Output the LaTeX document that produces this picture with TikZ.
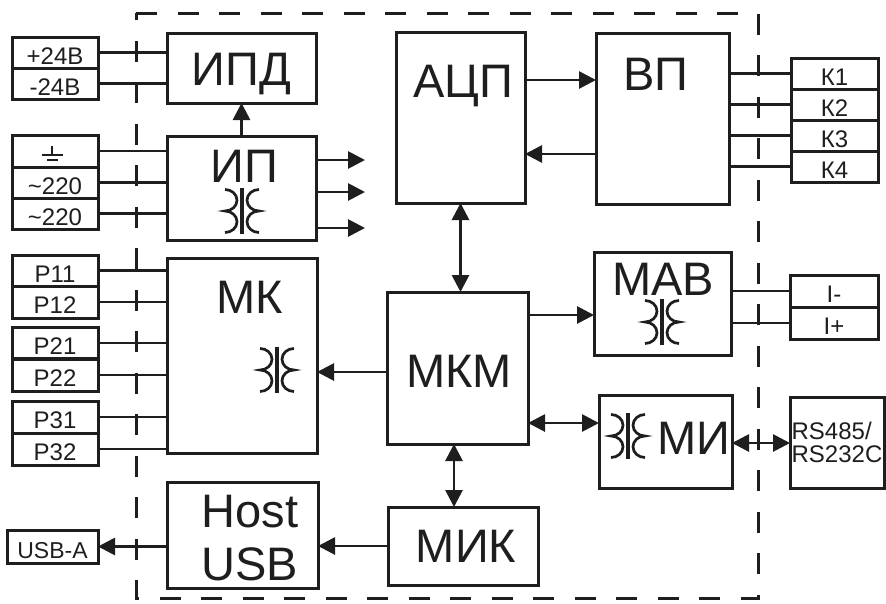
\documentclass[tikz,border=0pt]{standalone}
\usepackage{fontspec}
\setmainfont{Liberation Sans}
\usetikzlibrary{arrows.meta}
\definecolor{ink}{HTML}{1E1E1E}
\begin{document}
\begin{tikzpicture}[x=1pt,y=-1pt,
  box/.style={draw=ink, line width=3pt, inner sep=0pt, outer sep=0pt, rectangle},
  term/.style={draw=ink, line width=3pt, inner sep=0pt, outer sep=0pt, rectangle,
    minimum width=86pt, minimum height=31pt, text=ink, text height=23pt, text depth=0pt,
    font=\fontsize{24}{28}\selectfont},
  big/.style={inner sep=0pt, anchor=base, text=ink, font=\fontsize{47}{56}\selectfont},
  wire/.style={draw=ink, line width=2.8pt},
  arr/.style={wire, -{Triangle[length=17pt,width=17pt]}},
  darr/.style={wire, {Triangle[length=17pt,width=17pt]}-{Triangle[length=17pt,width=17pt]}},
  frame/.style={draw=ink, line width=3pt, dash pattern=on 21pt off 20.5pt},
  xfmr/.pic={
    \draw[ink, line width=2.7pt] (-17pt,21.5pt)
      arc[start angle=90,end angle=-90,x radius=12pt,y radius=10.75pt]
      arc[start angle=90,end angle=-90,x radius=12pt,y radius=10.75pt];
    \draw[ink, line width=2.7pt] (17pt,21.5pt)
      arc[start angle=90,end angle=270,x radius=12pt,y radius=10.75pt]
      arc[start angle=90,end angle=270,x radius=12pt,y radius=10.75pt];
    \draw[ink, line width=4pt] (0pt,23pt) -- (0pt,-23pt);
  }
]
\useasboundingbox (0,0) rectangle (886,603);
\fill[white] (0,0) rectangle (886,603);

% dashed enclosure
\draw[frame] (136,13) -- (758,13) -- (758,598) -- (136,598) -- cycle;

% main blocks
\node[box, minimum width=149pt, minimum height=70pt]  (ipd)  at (241.5,68)   {};
\node[box, minimum width=149pt, minimum height=104pt] (ip)   at (241.5,188)  {};
\node[box, minimum width=150pt, minimum height=195pt] (mk)   at (242,355.5)  {};
\node[box, minimum width=151pt, minimum height=106pt] (host) at (242.5,535)  {};
\node[box, minimum width=129pt, minimum height=171pt] (adc)  at (460.5,117.5){};
\node[box, minimum width=133pt, minimum height=171pt] (vp)   at (662.5,118.5){};
\node[box, minimum width=137pt, minimum height=103pt] (mab)  at (662.5,303.5){};
\node[box, minimum width=141pt, minimum height=152pt] (mkm)  at (457.5,368)  {};
\node[box, minimum width=133pt, minimum height=93pt]  (mi)   at (665.5,441.5){};
\node[box, minimum width=150pt, minimum height=78pt]  (mik)  at (463,546)    {};
\node[box, minimum width=94pt, minimum height=91pt, align=left, text=ink,
      font=\fontsize{24}{23}\selectfont] (rs) at (837,442.5) {RS485/\\RS232C};

% block labels
\node[big] (ipdT)  at (241.5,85) {ИПД};
\node[big] (ipT)   at (244,182)  {ИП};
\node[big] (mkT)   at (250,313)  {МК};
\node[big] (hostT) at (250,527)  {Host};
\node[big] (usbT)  at (250,580)  {USB};
\node[big] (adcT)  at (463,97)   {АЦП};
\node[big] (vpT)   at (656,90)   {ВП};
\node[big] (mabT)  at (663,295)  {МАВ};
\node[big] (mkmT)  at (459,387)  {МКМ};
\node[big] (mikT)  at (466,562)  {МИК};
\node[big] (miT)   at (694,454)  {МИ};

% transformer symbols
\pic at (242,211) {xfmr};
\pic at (277,370) {xfmr};
\pic at (662,322) {xfmr};
\pic at (628,436) {xfmr};

% left terminals
\node[term] (p24)  at (55,52.5)  {+24В};
\node[term] (m24)  at (55,83.5)  {-24В};
\node[term, minimum height=32pt] (gnd)  at (55,151)   {};
\node[term] (ac1)  at (55,182.5) {\textasciitilde220};
\node[term] (ac2)  at (55,213.5) {\textasciitilde220};
\node[term] (p11)  at (55,270.5) {Р11};
\node[term, minimum height=32pt] (p12)  at (55,302)   {Р12};
\node[term] (p21)  at (55,343)   {Р21};
\node[term, minimum height=32pt] (p22)  at (55,375)   {Р22};
\node[term, minimum height=32pt] (p31)  at (55,417)   {Р31};
\node[term, minimum height=32pt] (p32)  at (55,449)   {Р32};
\node[term, minimum width=91pt, minimum height=33pt, font=\fontsize{23}{27}\selectfont] (usba) at (52.5,546.5) {USB-A};

% ground sign
\draw[ink, line width=2pt] (52,146) -- (52,155) (42,155) -- (63,155) (47,160) -- (58,160);

% right terminals
\node[term, minimum width=87pt] (k1) at (834.5,73.5)  {К1};
\node[term, minimum width=87pt] (k2) at (834.5,104.5) {К2};
\node[term, minimum width=87pt] (k3) at (834.5,135.5) {К3};
\node[term, minimum width=87pt] (k4) at (834.5,166.5) {К4};
\node[term, minimum width=88pt, minimum height=32pt] (im) at (834,291) {I-};
\node[term, minimum width=88pt, minimum height=32pt] (ipl) at (834,323) {I+};

% free ends of the ИП outputs
\coordinate (o1) at (365,160);
\coordinate (o2) at (365,192);
\coordinate (o3) at (365,228);

% wires from left terminals
\foreach \t/\b in {p24/ipd, m24/ipd, gnd/ip, ac1/ip, ac2/ip, p11/mk, p12/mk, p21/mk, p22/mk, p31/mk, p32/mk}
  \draw[wire] (\t.east) -- (\t.east -| \b.west);

% wires to right terminals
\foreach \t in {k1,k2,k3,k4}
  \draw[wire] (vp.east |- \t.west) -- (\t.west);
\foreach \t in {im,ipl}
  \draw[wire] (mab.east |- \t.west) -- (\t.west);

% arrows
\draw[arr] (ip.north) -- (ipd.south);
\draw[arr] (ip.east |- o1) -- (o1);
\draw[arr] (ip.east |- o2) -- (o2);
\draw[arr] (ip.east |- o3) -- (o3);
\draw[arr] (adc.east |- 0,80) -- (vp.west |- 0,80);
\draw[arr] (vp.west |- 0,154) -- (adc.east |- 0,154);
\draw[darr] (adc.south) -- (adc.south |- mkm.north);
\draw[arr] (mkm.west |- 0,372) -- (mk.east |- 0,372);
\draw[arr] (mkm.east |- 0,315) -- (mab.west |- 0,315);
\draw[darr] (mkm.east |- 0,423) -- (mi.west |- 0,423);
\draw[darr] (mkm.south -| 454,0) -- (mik.north -| 454,0);
\draw[arr] (mik.west) -- (mik.west -| host.east);
\draw[arr] (host.west |- usba.east) -- (usba.east);
\draw[darr] (mi.east |- 0,443) -- (rs.west |- 0,443);
\end{tikzpicture}
\end{document}
